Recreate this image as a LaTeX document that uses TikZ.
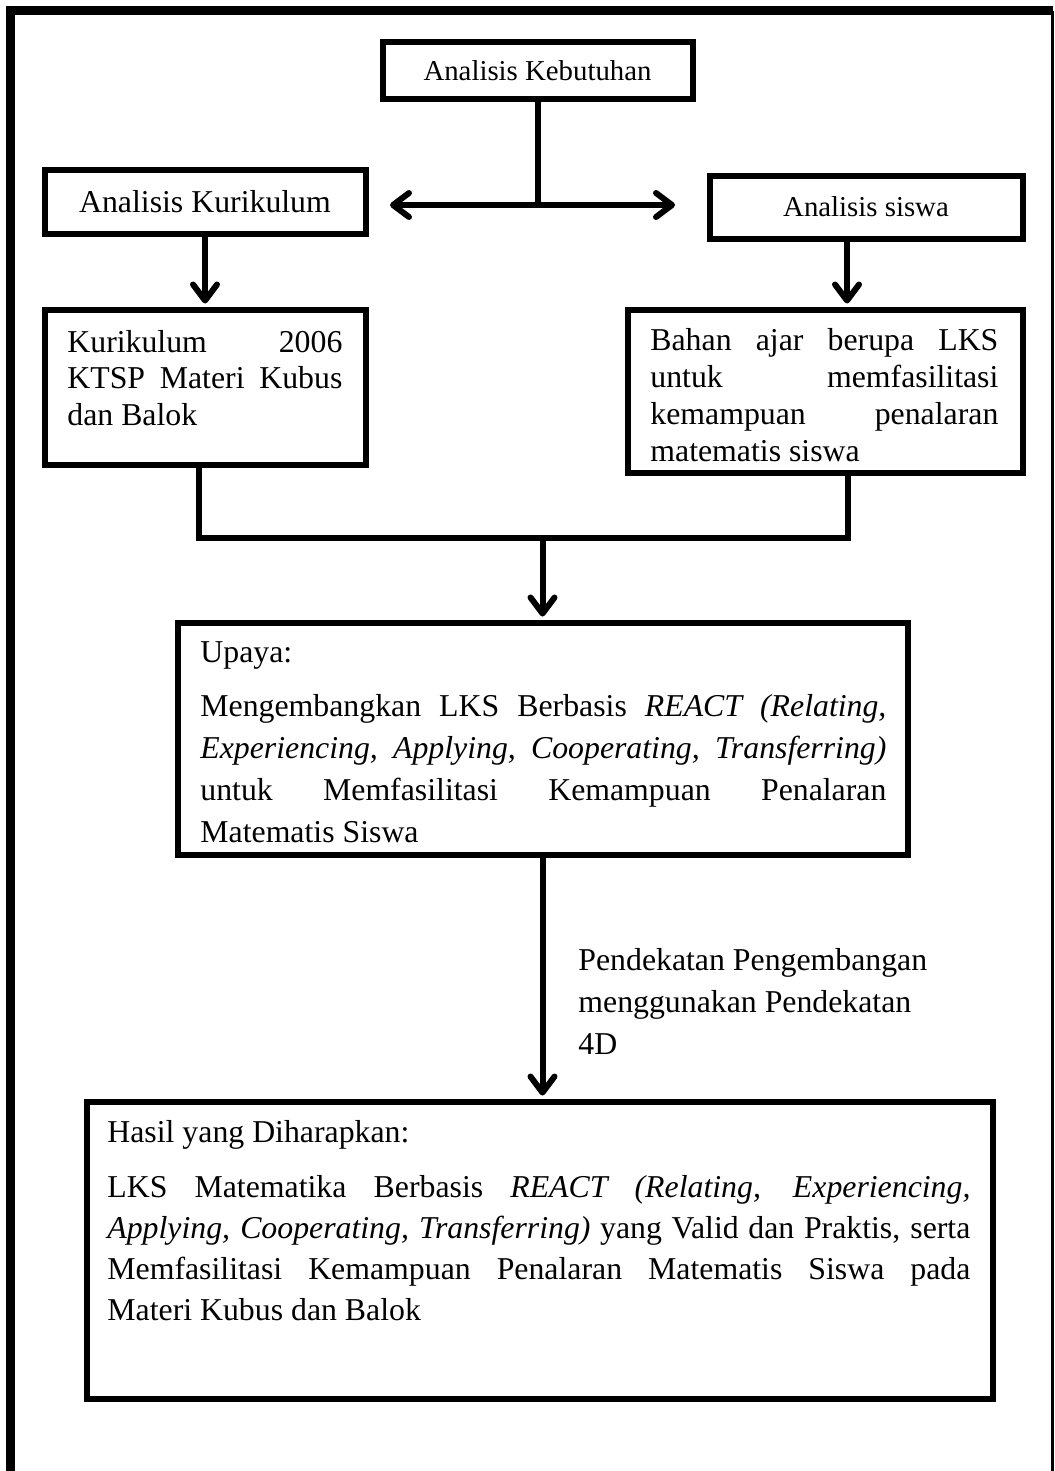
\documentclass[tikz,border=0pt]{standalone}
\usepackage{fontspec}
\setmainfont{Liberation Serif}
\usetikzlibrary{arrows.meta,fit}
\newcommand\bodyf{\fontsize{15.9}{19}\selectfont}
\newcommand\smallf{\fontsize{14.4}{17}\selectfont}
\newcommand\jline[2]{\makebox[#1][s]{#2}}
\begin{document}
\begin{tikzpicture}[x=0.5pt,y=-0.5pt,
  box/.style={draw, line width=3pt, inner sep=0pt},
  ln/.style={line width=3pt},
  arr/.style={line width=3pt, -{Straight Barb[length=8pt,width=12pt,round]}, shorten >=1.5pt},
  darr/.style={line width=3pt, {Straight Barb[length=8pt,width=12pt,round]}-{Straight Barb[length=8pt,width=12pt,round]}},
  txt/.style={inner sep=0pt, anchor=base west, font=\bodyf},
  ctxt/.style={inner sep=0pt, anchor=base, font=\bodyf}]
\useasboundingbox (0,0) rectangle (1054,1471);
% outer frame
\draw[line width=4.5pt] (10.5,1480) -- (10.5,11) -- (1052.5,11);
\draw[line width=1.5pt] (1052.5,11) -- (1052.5,1480);
% boxes
\node[box, fit={(382.5,42.5)(692.5,99.5)}] (keb) {};
\node[box, fit={(44.5,170.5)(365.5,234.5)}] (kur) {};
\node[box, fit={(709.5,176.5)(1022.5,239.5)}] (sis) {};
\node[box, fit={(44.5,309.5)(365.5,464.5)}] (kur2) {};
\node[box, fit={(627.5,309.5)(1022.5,472.5)}] (bah) {};
\node[box, fit={(177.5,622.5)(907.5,854.5)}] (upa) {};
\node[box, fit={(86.5,1101.5)(992.5,1398.5)}] (has) {};
% texts
\node[ctxt, font=\smallf] (tkeb) at (537.5,81) {Analisis Kebutuhan};
\node[ctxt] (tkur) at (205,213) {Analisis Kurikulum};
\node[ctxt, font=\smallf] (tsis) at (866,217) {Analisis siswa};
\node[txt] (k1) at (67,352) {\jline{137.5pt}{Kurikulum 2006}};
\node[txt] (k2) at (67,388.5) {\jline{137.5pt}{KTSP Materi Kubus}};
\node[txt] (k3) at (67,425) {dan Balok};
\node[txt] (b1) at (650,350) {\jline{174pt}{Bahan ajar berupa LKS}};
\node[txt] (b2) at (650,387) {\jline{174pt}{untuk memfasilitasi}};
\node[txt] (b3) at (650,424) {\jline{174pt}{kemampuan penalaran}};
\node[txt] (b4) at (650,461) {matematis siswa};
\node[txt] (u0) at (200,662) {Upaya:};
\node[txt] (u1) at (200,716) {\jline{343pt}{Mengembangkan LKS Berbasis \textit{REACT (Relating,}}};
\node[txt] (u2) at (200,758) {\jline{343pt}{\textit{Experiencing, Applying, Cooperating, Transferring)}}};
\node[txt] (u3) at (200,800) {\jline{343pt}{untuk Memfasilitasi Kemampuan Penalaran}};
\node[txt] (u4) at (200,842) {Matematis Siswa};
\node[txt] (p1) at (578,970) {Pendekatan Pengembangan};
\node[txt] (p2) at (578,1012) {menggunakan Pendekatan};
\node[txt] (p3) at (578,1054) {4D};
\node[txt] (h0) at (107,1142) {Hasil yang Diharapkan:};
\node[txt] (h1) at (107,1197) {\jline{431.5pt}{LKS Matematika Berbasis \textit{REACT (Relating, Experiencing,}}};
\node[txt] (h2) at (107,1238) {\jline{431.5pt}{\textit{Applying, Cooperating, Transferring)} yang Valid dan Praktis, serta}};
\node[txt] (h3) at (107,1279) {\jline{431.5pt}{Memfasilitasi Kemampuan Penalaran Matematis Siswa pada}};
\node[txt] (h4) at (107,1320) {Materi Kubus dan Balok};
% connectors
\coordinate (la) at (390,205);
\coordinate (ra) at (675,205);
\draw[ln] (keb.south) -- (keb.south |- la);
\draw[darr] (la) -- (ra);
\draw[arr] (kur.south) -- (kur2.north);
\coordinate (sa) at (847,0);
\draw[arr] (sis.south -| sa) -- (bah.north -| sa);
\coordinate (m1) at (199,538);
\coordinate (m2) at (848,538);
\draw[ln] (kur2.south -| m1) -- (m1) -- (m2) -- (bah.south -| m2);
\draw[arr] (upa.north |- m1) -- (upa.north);
\draw[arr] (upa.south) -- (upa.south |- has.north);
\end{tikzpicture}
\end{document}
